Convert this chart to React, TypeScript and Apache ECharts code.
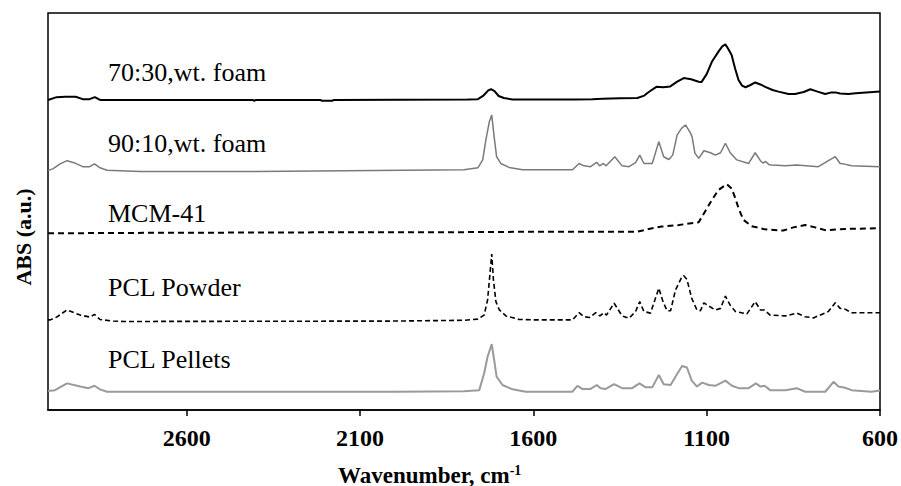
import React, { useEffect, useRef } from "react";
import * as echarts from "echarts";

// FTIR spectra, stacked with vertical offsets (absorbance in a.u.)
// each point: [wavenumber (cm-1), absorbance]
const foam7030: number[][] = [
  [3000, 78.1], [2975, 78.8], [2950, 78.9], [2920, 78.9], [2900, 78.3], [2880, 78.3], [2865, 78.8], [2850, 78.1],
  [2410, 78.1], [2405, 77.9], [2400, 78.1], [2215, 78.1], [2210, 77.9], [2180, 77.9], [2175, 78.1], [1790, 78.2],
  [1760, 78.3], [1745, 79.1], [1730, 80.5], [1722, 80.8], [1712, 80.3], [1700, 79.1], [1685, 78.6], [1660, 78.2],
  [1480, 78.2], [1430, 78.3], [1400, 78.4], [1350, 78.5], [1300, 78.6], [1280, 79.2], [1267, 80.1], [1245, 81.4],
  [1225, 81.3], [1205, 81.5], [1185, 82.7], [1166, 83.6], [1145, 83.3], [1123, 82.7], [1115, 82.6], [1100, 84.6],
  [1085, 87.7], [1065, 90.4], [1055, 91.6], [1046, 92.1], [1038, 91.0], [1028, 89.4], [1018, 86.0], [1008, 83.1],
  [998, 81.7], [988, 81.3], [975, 81.8], [960, 82.5], [945, 82.0], [931, 81.4], [910, 80.6], [893, 80.2],
  [864, 79.6], [845, 79.6], [820, 80.1], [801, 80.8], [780, 80.2], [758, 79.6], [740, 80.0], [729, 80.0],
  [715, 79.7], [691, 79.6], [670, 79.8], [600, 80.2],
];

const foam9010: number[][] = [
  [3000, 60.3], [2985, 60.8], [2965, 62.0], [2945, 62.8], [2925, 62.3], [2900, 61.3], [2880, 61.3], [2866, 62.0],
  [2850, 61.0], [2830, 60.4], [2734, 60.1], [2400, 60.1], [1800, 60.5], [1760, 61.0], [1746, 63.0], [1737, 68.0],
  [1727, 72.6], [1720, 74.3], [1713, 68.8], [1706, 63.8], [1694, 62.1], [1670, 61.1], [1631, 60.5], [1487, 60.5],
  [1468, 62.1], [1454, 61.5], [1435, 61.3], [1417, 62.4], [1409, 61.5], [1398, 62.1], [1390, 61.5], [1365, 63.8],
  [1344, 61.5], [1324, 61.3], [1305, 62.3], [1293, 64.2], [1281, 62.1], [1257, 62.1], [1238, 67.6], [1224, 63.8],
  [1209, 63.1], [1198, 64.2], [1185, 69.3], [1172, 71.0], [1161, 71.8], [1147, 69.8], [1142, 68.8], [1134, 64.7],
  [1123, 63.4], [1108, 65.3], [1089, 64.8], [1075, 64.2], [1060, 64.8], [1046, 67.2], [1032, 64.8], [1013, 63.0],
  [979, 62.1], [960, 64.8], [945, 62.8], [938, 62.2], [930, 62.6], [920, 61.8], [912, 61.7], [873, 61.5],
  [840, 61.7], [778, 61.3], [729, 63.8], [715, 62.1], [706, 62.0], [682, 61.5], [600, 61.3],
];

const mcm41: number[][] = [
  [3000, 44.5], [2800, 44.6], [2400, 44.7], [2000, 44.8], [1800, 44.8], [1600, 44.9], [1300, 44.9], [1267, 45.6],
  [1230, 46.2], [1180, 46.6], [1123, 47.3], [1108, 49.5], [1085, 52.9], [1066, 55.4], [1050, 56.4], [1042, 56.9],
  [1028, 55.8], [1018, 53.5], [1008, 50.8], [994, 47.9], [970, 46.3], [932, 45.5], [879, 45.2], [850, 46.0],
  [816, 46.6], [787, 46.0], [758, 45.3], [700, 45.6], [600, 45.8],
];

const pclPowder: number[][] = [
  [3000, 22.7], [2993, 22.7], [2975, 23.4], [2945, 25.2], [2907, 23.9], [2878, 23.4], [2866, 24.1], [2850, 22.8],
  [2812, 22.4], [2780, 22.3], [2000, 22.4], [1800, 22.6], [1760, 22.9], [1742, 23.9], [1732, 27.7], [1725, 34.4],
  [1720, 39.3], [1715, 32.7], [1708, 27.3], [1698, 25.2], [1679, 23.7], [1641, 22.8], [1593, 22.7], [1487, 22.7],
  [1468, 24.5], [1454, 23.5], [1438, 23.3], [1420, 24.5], [1408, 23.7], [1396, 24.5], [1389, 23.9], [1367, 26.9],
  [1344, 23.7], [1324, 23.1], [1305, 24.8], [1293, 27.3], [1281, 24.8], [1262, 24.4], [1238, 30.7], [1226, 27.3],
  [1214, 25.0], [1204, 25.0], [1190, 30.2], [1171, 33.6], [1166, 33.8], [1157, 32.9], [1143, 28.1], [1128, 25.2],
  [1118, 25.0], [1108, 27.0], [1094, 26.2], [1075, 25.2], [1060, 25.6], [1046, 28.7], [1032, 26.4], [1017, 24.8],
  [984, 24.2], [960, 27.3], [945, 25.2], [933, 25.2], [917, 23.9], [873, 23.7], [840, 24.4], [816, 23.5],
  [792, 23.2], [749, 24.8], [729, 27.0], [715, 25.6], [701, 25.4], [682, 24.5], [600, 24.5],
];

const pclPellets: number[][] = [
  [3000, 4.8], [2980, 5.0], [2945, 6.7], [2907, 5.9], [2883, 5.5], [2866, 6.1], [2850, 5.2], [2830, 4.6],
  [2000, 4.6], [1800, 4.7], [1756, 5.0], [1742, 9.2], [1732, 13.4], [1720, 16.6], [1713, 12.6], [1706, 8.4],
  [1689, 6.3], [1660, 5.2], [1622, 4.6], [1487, 4.6], [1473, 6.1], [1459, 5.3], [1435, 5.3], [1417, 6.3],
  [1406, 5.5], [1391, 5.3], [1367, 6.5], [1344, 5.5], [1315, 5.5], [1294, 6.7], [1276, 5.7], [1257, 5.7],
  [1238, 8.8], [1224, 6.5], [1204, 6.3], [1190, 8.4], [1171, 11.1], [1157, 10.7], [1143, 7.4], [1128, 5.9],
  [1113, 6.9], [1094, 6.3], [1075, 6.1], [1046, 7.4], [1027, 6.1], [1008, 5.5], [979, 5.5], [958, 6.7],
  [945, 5.9], [933, 6.1], [917, 5.0], [873, 5.0], [840, 5.5], [816, 4.6], [758, 4.6], [734, 7.1],
  [720, 5.9], [701, 5.6], [682, 5.0], [625, 4.6], [600, 4.9],
];

const seriesNames = ["70:30,wt. foam", "90:10,wt. foam", "MCM-41", "PCL Powder", "PCL Pellets"];
const tickValues = [2600, 2100, 1600, 1100, 600];

const SERIF = "'Liberation Serif', 'Times New Roman', serif";

export default function App() {
  const ref = useRef<HTMLDivElement>(null);

  useEffect(() => {
    if (!ref.current) return;
    const chart = echarts.init(ref.current, undefined, { renderer: "svg" });

    const line = (name: string, data: number[][], color: string, width: number, type: any) => ({
      name,
      type: "line",
      data,
      showSymbol: false,
      smooth: false,
      lineStyle: { color, width, type },
      silent: true,
    });

    // series labels sit just above each trace
    const labelY = [72, 143, 213, 287, 359];
    const seriesLabels = seriesNames.map((t, i) => ({
      type: "text",
      x: 108,
      y: labelY[i],
      style: {
        text: t,
        fontFamily: SERIF,
        fontSize: 26,
        fill: "#000",
        verticalAlign: "middle",
        align: "left",
      },
    }));

    chart.setOption({
      animation: false,
      grid: {
        left: 48,
        right: 19,
        top: 13,
        bottom: 76,
        show: true,
        borderColor: "#000",
        borderWidth: 1.5,
        backgroundColor: "transparent",
      },
      xAxis: {
        type: "value",
        min: 600,
        max: 3000,
        inverse: true,
        axisLine: { show: true, lineStyle: { color: "#000", width: 1.5 } },
        axisTick: {
          show: true,
          inside: false,
          length: 6,
          customValues: tickValues,
          lineStyle: { color: "#000", width: 1.5 },
        },
        axisLabel: {
          customValues: tickValues,
          formatter: (v: number) => String(v),
          margin: 16,
          fontFamily: SERIF,
          fontWeight: "bold",
          fontSize: 24,
          color: "#000",
        },
        splitLine: { show: false },
      },
      yAxis: {
        type: "value",
        min: 0,
        max: 100,
        show: false,
      },
      series: [
        line(seriesNames[0], foam7030, "#000000", 2, "solid"),
        line(seriesNames[1], foam9010, "#7a7a7a", 1.5, "solid"),
        line(seriesNames[2], mcm41, "#000000", 2, [6, 4]),
        line(seriesNames[3], pclPowder, "#000000", 1.6, [5, 3]),
        line(seriesNames[4], pclPellets, "#9a9a9a", 2, "solid"),
      ],
      graphic: [
        ...seriesLabels,
        {
          type: "text",
          x: 338,
          y: 475,
          style: {
            text: "{a|Wavenumber, cm}{b|-1}",
            verticalAlign: "middle",
            align: "left",
            rich: {
              a: { fontFamily: SERIF, fontSize: 23, fontWeight: "bold", fill: "#000" },
              b: { fontFamily: SERIF, fontSize: 14, fontWeight: "bold", fill: "#000", verticalAlign: "top" },
            },
          },
        },
        {
          type: "text",
          x: 23,
          y: 237,
          rotation: Math.PI / 2,
          style: {
            text: "ABS (a.u.)",
            fontFamily: SERIF,
            fontSize: 22,
            fontWeight: "bold",
            fill: "#000",
            align: "center",
            verticalAlign: "middle",
          },
        },
      ],
    });

    return () => chart.dispose();
  }, []);

  return (
    <div
      ref={ref}
      style={{ position: "fixed", left: 0, top: 0, width: 901, height: 486, background: "#fff" }}
    />
  );
}
